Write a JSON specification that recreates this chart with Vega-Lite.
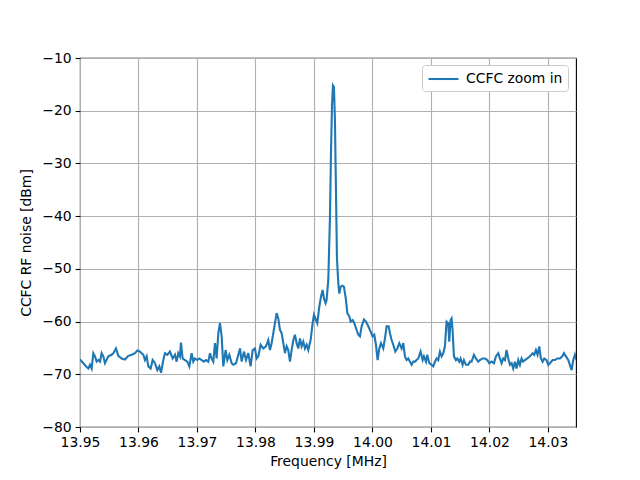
{
  "$schema": "https://vega.github.io/schema/vega-lite/v6.json",
  "width": 496,
  "height": 369,
  "autosize": {"type": "none"},
  "padding": {"left": 80, "top": 58, "right": 64, "bottom": 53},
  "config": {
    "font": "DejaVu Sans",
    "view": {"stroke": "black", "strokeWidth": 1.1},
    "axis": {
      "domain": false,
      "grid": true,
      "gridColor": "#b0b0b0",
      "gridWidth": 1.1,
      "tickColor": "black",
      "tickWidth": 1.1,
      "tickSize": 4.9,
      "labelFontSize": 13.9,
      "labelColor": "black",
      "labelPadding": 4,
      "titleFontSize": 13.9,
      "titleFontWeight": "normal",
      "titleColor": "black"
    },
    "legend": {
      "orient": "none",
      "legendX": 342,
      "legendY": 7,
      "fillColor": "white",
      "strokeColor": "#cccccc",
      "cornerRadius": 3,
      "padding": 5,
      "labelFontSize": 13.9,
      "labelColor": "black",
      "labelOffset": 21,
      "symbolType": "M-1,0H3",
      "symbolSize": 225,
      "symbolStrokeWidth": 2.1
    }
  },
  "data": {
    "values": [
      {"f": 13.95000, "v": -67.2}, {"f": 13.95057, "v": -67.9}, {"f": 13.95103, "v": -68.5}, {"f": 13.95142, "v": -68.9},
      {"f": 13.95171, "v": -68.2}, {"f": 13.95199, "v": -68.9}, {"f": 13.95228, "v": -66.0}, {"f": 13.95256, "v": -66.6},
      {"f": 13.95285, "v": -67.6}, {"f": 13.95313, "v": -67.3}, {"f": 13.95342, "v": -67.6}, {"f": 13.95370, "v": -66.0},
      {"f": 13.95399, "v": -66.6}, {"f": 13.95427, "v": -67.9}, {"f": 13.95484, "v": -66.6}, {"f": 13.95541, "v": -66.3},
      {"f": 13.95570, "v": -66.0}, {"f": 13.95615, "v": -65.1}, {"f": 13.95655, "v": -66.5}, {"f": 13.95712, "v": -67.0},
      {"f": 13.95769, "v": -67.2}, {"f": 13.95826, "v": -66.5}, {"f": 13.95883, "v": -66.3}, {"f": 13.95940, "v": -66.0},
      {"f": 13.95980, "v": -65.5}, {"f": 13.96026, "v": -65.7}, {"f": 13.96083, "v": -66.3}, {"f": 13.96111, "v": -67.3},
      {"f": 13.96140, "v": -66.6}, {"f": 13.96168, "v": -68.5}, {"f": 13.96208, "v": -68.9}, {"f": 13.96242, "v": -67.3},
      {"f": 13.96282, "v": -67.9}, {"f": 13.96322, "v": -69.2}, {"f": 13.96356, "v": -68.5}, {"f": 13.96385, "v": -69.7},
      {"f": 13.96425, "v": -67.3}, {"f": 13.96453, "v": -66.0}, {"f": 13.96493, "v": -66.3}, {"f": 13.96538, "v": -65.7},
      {"f": 13.96584, "v": -67.0}, {"f": 13.96624, "v": -66.3}, {"f": 13.96652, "v": -67.6}, {"f": 13.96681, "v": -66.0},
      {"f": 13.96709, "v": -66.6}, {"f": 13.96726, "v": -64.0}, {"f": 13.96755, "v": -67.0}, {"f": 13.96795, "v": -67.3},
      {"f": 13.96835, "v": -67.6}, {"f": 13.96869, "v": -68.5}, {"f": 13.96909, "v": -66.0}, {"f": 13.96937, "v": -67.6},
      {"f": 13.96966, "v": -67.0}, {"f": 13.97006, "v": -67.3}, {"f": 13.97040, "v": -67.0}, {"f": 13.97080, "v": -67.3},
      {"f": 13.97120, "v": -67.6}, {"f": 13.97154, "v": -67.3}, {"f": 13.97194, "v": -67.6}, {"f": 13.97222, "v": -66.0},
      {"f": 13.97251, "v": -67.0}, {"f": 13.97279, "v": -67.6}, {"f": 13.97308, "v": -64.1}, {"f": 13.97336, "v": -67.0},
      {"f": 13.97365, "v": -62.2}, {"f": 13.97393, "v": -60.3}, {"f": 13.97422, "v": -62.8}, {"f": 13.97450, "v": -68.5},
      {"f": 13.97490, "v": -65.4}, {"f": 13.97519, "v": -67.3}, {"f": 13.97553, "v": -66.3}, {"f": 13.97593, "v": -67.9},
      {"f": 13.97621, "v": -68.2}, {"f": 13.97667, "v": -67.9}, {"f": 13.97707, "v": -66.3},
      {"f": 13.97735, "v": -65.1}, {"f": 13.97764, "v": -67.6}, {"f": 13.97803, "v": -65.7}, {"f": 13.97838, "v": -67.3},
      {"f": 13.97877, "v": -66.0}, {"f": 13.97917, "v": -68.5}, {"f": 13.97952, "v": -65.4}, {"f": 13.97991, "v": -65.1},
      {"f": 13.98020, "v": -67.0}, {"f": 13.98048, "v": -66.6}, {"f": 13.98088, "v": -64.4}, {"f": 13.98134, "v": -65.1},
      {"f": 13.98179, "v": -64.7}, {"f": 13.98219, "v": -63.5}, {"f": 13.98248, "v": -65.4}, {"f": 13.98276, "v": -64.1},
      {"f": 13.98305, "v": -62.2}, {"f": 13.98333, "v": -60.3}, {"f": 13.98362, "v": -58.4}, {"f": 13.98390, "v": -59.4},
      {"f": 13.98419, "v": -61.6}, {"f": 13.98447, "v": -62.2}, {"f": 13.98476, "v": -64.1}, {"f": 13.98504, "v": -66.0},
      {"f": 13.98533, "v": -64.7}, {"f": 13.98561, "v": -65.4}, {"f": 13.98590, "v": -67.6}, {"f": 13.98618, "v": -65.4},
      {"f": 13.98647, "v": -63.5}, {"f": 13.98675, "v": -62.5}, {"f": 13.98704, "v": -64.1}, {"f": 13.98732, "v": -65.1},
      {"f": 13.98761, "v": -63.2}, {"f": 13.98789, "v": -64.7}, {"f": 13.98818, "v": -63.8}, {"f": 13.98846, "v": -65.1},
      {"f": 13.98875, "v": -64.4}, {"f": 13.98903, "v": -65.4}, {"f": 13.98943, "v": -63.5}, {"f": 13.98977, "v": -60.3},
      {"f": 13.99000, "v": -58.7}, {"f": 13.99034, "v": -59.7}, {"f": 13.99057, "v": -60.3}, {"f": 13.99091, "v": -57.2},
      {"f": 13.99120, "v": -55.3}, {"f": 13.99148, "v": -54.0}, {"f": 13.99171, "v": -55.6}, {"f": 13.99199, "v": -56.5},
      {"f": 13.99216, "v": -55.9}, {"f": 13.99245, "v": -52.1}, {"f": 13.99274, "v": -40.0}, {"f": 13.99291, "v": -28.0},
      {"f": 13.99308, "v": -19.0}, {"f": 13.99325, "v": -15.2}, {"f": 13.99342, "v": -15.5}, {"f": 13.99359, "v": -22.0},
      {"f": 13.99376, "v": -35.0}, {"f": 13.99393, "v": -48.0}, {"f": 13.99416, "v": -52.7}, {"f": 13.99433, "v": -54.7},
      {"f": 13.99456, "v": -53.4}, {"f": 13.99490, "v": -53.2}, {"f": 13.99513, "v": -53.4}, {"f": 13.99547, "v": -55.9},
      {"f": 13.99570, "v": -58.4}, {"f": 13.99604, "v": -59.0}, {"f": 13.99627, "v": -60.0}, {"f": 13.99661, "v": -59.7},
      {"f": 13.99690, "v": -60.3}, {"f": 13.99729, "v": -61.6}, {"f": 13.99758, "v": -62.5}, {"f": 13.99786, "v": -62.8},
      {"f": 13.99815, "v": -60.9}, {"f": 13.99855, "v": -59.6}, {"f": 13.99889, "v": -60.0}, {"f": 13.99929, "v": -60.9},
      {"f": 13.99969, "v": -61.9}, {"f": 14.00003, "v": -62.8}, {"f": 14.00031, "v": -62.5}, {"f": 14.00060, "v": -64.4},
      {"f": 14.00088, "v": -67.3}, {"f": 14.00117, "v": -65.1}, {"f": 14.00145, "v": -64.1}, {"f": 14.00185, "v": -65.1},
      {"f": 14.00214, "v": -63.2}, {"f": 14.00242, "v": -60.9}, {"f": 14.00276, "v": -60.9}, {"f": 14.00299, "v": -62.2},
      {"f": 14.00328, "v": -63.5}, {"f": 14.00356, "v": -64.4}, {"f": 14.00390, "v": -65.7}, {"f": 14.00425, "v": -65.1},
      {"f": 14.00459, "v": -64.1},
      {"f": 14.00499, "v": -65.1}, {"f": 14.00527, "v": -64.1}, {"f": 14.00556, "v": -66.6}, {"f": 14.00584, "v": -67.3},
      {"f": 14.00613, "v": -67.0}, {"f": 14.00641, "v": -67.6}, {"f": 14.00670, "v": -68.2}, {"f": 14.00698, "v": -67.6},
      {"f": 14.00726, "v": -67.6}, {"f": 14.00755, "v": -67.3}, {"f": 14.00783, "v": -67.0}, {"f": 14.00823, "v": -65.7},
      {"f": 14.00858, "v": -67.3}, {"f": 14.00880, "v": -66.6}, {"f": 14.00915, "v": -67.6}, {"f": 14.00937, "v": -66.3},
      {"f": 14.00972, "v": -67.9}, {"f": 14.01011, "v": -68.2}, {"f": 14.01040, "v": -68.5}, {"f": 14.01068, "v": -67.6},
      {"f": 14.01097, "v": -67.0}, {"f": 14.01125, "v": -67.3}, {"f": 14.01154, "v": -65.7}, {"f": 14.01182, "v": -66.6},
      {"f": 14.01211, "v": -66.0}, {"f": 14.01239, "v": -64.7}, {"f": 14.01268, "v": -60.0}, {"f": 14.01296, "v": -60.3},
      {"f": 14.01313, "v": -63.8}, {"f": 14.01336, "v": -59.7}, {"f": 14.01353, "v": -59.4}, {"f": 14.01370, "v": -61.6},
      {"f": 14.01393, "v": -66.6}, {"f": 14.01427, "v": -67.3}, {"f": 14.01450, "v": -67.0}, {"f": 14.01484, "v": -67.6},
      {"f": 14.01507, "v": -67.0}, {"f": 14.01541, "v": -68.2}, {"f": 14.01564, "v": -67.3}, {"f": 14.01598, "v": -68.2},
      {"f": 14.01638, "v": -68.2}, {"f": 14.01667, "v": -67.6}, {"f": 14.01695, "v": -67.6}, {"f": 14.01735, "v": -66.3},
      {"f": 14.01769, "v": -67.0}, {"f": 14.01809, "v": -67.6}, {"f": 14.01838, "v": -67.3}, {"f": 14.01883, "v": -67.0},
      {"f": 14.01923, "v": -67.0}, {"f": 14.01963, "v": -67.3}, {"f": 14.01997, "v": -67.9}, {"f": 14.02037, "v": -67.6},
      {"f": 14.02077, "v": -67.9}, {"f": 14.02111, "v": -66.6}, {"f": 14.02151, "v": -66.0}, {"f": 14.02179, "v": -67.0},
      {"f": 14.02208, "v": -67.9}, {"f": 14.02236, "v": -67.0}, {"f": 14.02265, "v": -67.3}, {"f": 14.02293, "v": -65.4},
      {"f": 14.02322, "v": -67.0}, {"f": 14.02350, "v": -68.2}, {"f": 14.02379, "v": -67.9}, {"f": 14.02407, "v": -68.9},
      {"f": 14.02436, "v": -67.6}, {"f": 14.02464, "v": -68.9}, {"f": 14.02493, "v": -67.3}, {"f": 14.02521, "v": -68.2},
      {"f": 14.02550, "v": -67.0}, {"f": 14.02578, "v": -67.6}, {"f": 14.02607, "v": -67.3}, {"f": 14.02647, "v": -67.0},
      {"f": 14.02692, "v": -66.6}, {"f": 14.02738, "v": -66.0}, {"f": 14.02766, "v": -66.3}, {"f": 14.02795, "v": -65.4},
      {"f": 14.02823, "v": -66.3}, {"f": 14.02852, "v": -64.7}, {"f": 14.02880, "v": -67.0}, {"f": 14.02909, "v": -67.6},
      {"f": 14.02937, "v": -67.0}, {"f": 14.02977, "v": -67.3}, {"f": 14.03006, "v": -68.2}, {"f": 14.03034, "v": -67.9},
      {"f": 14.03080, "v": -67.3}, {"f": 14.03120, "v": -67.3}, {"f": 14.03160, "v": -67.0}, {"f": 14.03205, "v": -67.0},
      {"f": 14.03245, "v": -66.6}, {"f": 14.03274, "v": -66.0}, {"f": 14.03308, "v": -66.6}, {"f": 14.03348, "v": -67.3},
      {"f": 14.03376, "v": -68.2}, {"f": 14.03405, "v": -69.2}, {"f": 14.03433, "v": -67.3}, {"f": 14.03462, "v": -66.3},
      {"f": 14.03479, "v": -67.0}, {"f": 14.03500, "v": -67.5}
    ]
  },
  "mark": {"type": "line", "strokeWidth": 2.1, "clip": true},
  "encoding": {
    "x": {
      "field": "f",
      "type": "quantitative",
      "scale": {"domain": [13.95, 14.0348], "nice": false, "zero": false},
      "axis": {
        "title": "Frequency [MHz]",
        "values": [13.95, 13.96, 13.97, 13.98, 13.99, 14.0, 14.01, 14.02, 14.03],
        "format": ".2f",
        "titlePadding": 5,
        "labelFlush": false,
        "labelOverlap": false
      }
    },
    "y": {
      "field": "v",
      "type": "quantitative",
      "scale": {"domain": [-80, -10], "nice": false, "zero": false},
      "axis": {
        "title": "CCFC RF noise [dBm]",
        "values": [-80, -70, -60, -50, -40, -30, -20, -10],
        "labelExpr": "replace(datum.label, '-', '−')",
        "titlePadding": 8,
        "labelFlush": false,
        "labelOverlap": false
      }
    },
    "color": {
      "datum": "CCFC zoom in",
      "type": "nominal",
      "scale": {"range": ["#1f77b4"]},
      "legend": {"title": null}
    }
  }
}
